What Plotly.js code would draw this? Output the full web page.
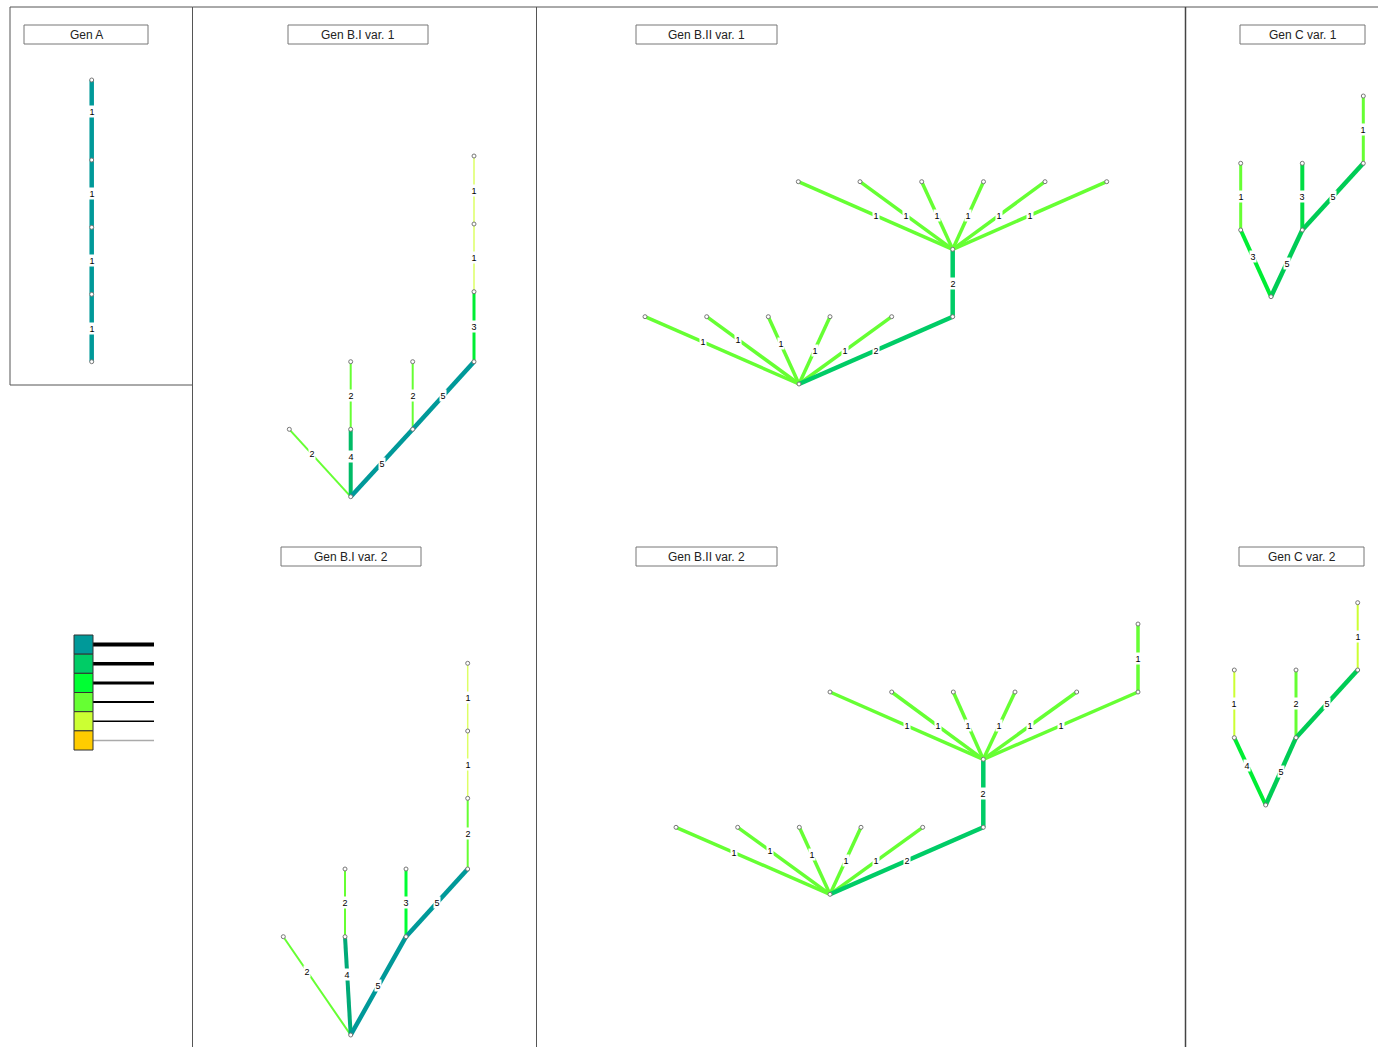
<!DOCTYPE html>
<html>
<head>
<meta charset="utf-8">
<script src="https://cdn.plot.ly/plotly-3.0.1.min.js"></script>
<style>html,body{margin:0;padding:0;background:#fff;}#chart{width:1378px;height:1047px;}</style>
</head>
<body>
<div id="chart"></div>
<script>
// ---------- DATA (node coordinates in page units, edges, edge values) ----------
// Gen A
const genA_x = [91.7, 91.7, 91.7, 91.7, 91.7];
const genA_y = [80, 160, 227.3, 294.3, 361.7];
const genA_from = [0, 1, 2, 3];
const genA_to   = [1, 2, 3, 4];
const genA_val  = [1, 1, 1, 1];
const genA_lblT = [0.39, 0.5, 0.5, 0.5];

// Gen B.I var. 1
const bi1_x = [350.7, 289.3, 350.7, 350.7, 412.7, 412.7, 474, 474, 474, 474];
const bi1_y = [496.7, 429.3, 429.3, 361.7, 429.3, 361.7, 361.7, 291.7, 224, 156];
const bi1_from = [1, 2, 2, 0, 4, 4, 6, 7, 8];
const bi1_to   = [0, 0, 3, 4, 5, 6, 7, 8, 9];
const bi1_val  = [2, 4, 2, 5, 2, 5, 3, 1, 1];
const bi1_lblT = [0.365, 0.41, 0.5, 0.5, 0.5, 0.5, 0.5, 0.5, 0.5];

// Gen B.I var. 2
const bi2_x = [350.7, 283.3, 345, 345, 406, 406, 467.7, 467.7, 467.7, 467.7];
const bi2_y = [1035, 936.7, 936.7, 869, 936.7, 869, 869, 798.3, 731, 663.3];
const bi2_from = [1, 2, 2, 0, 4, 4, 6, 7, 8];
const bi2_to   = [0, 0, 3, 4, 5, 6, 7, 8, 9];
const bi2_val  = [2, 4, 2, 5, 3, 5, 2, 1, 1];
const bi2_lblT = [0.35, 0.38, 0.5, 0.5, 0.5, 0.5, 0.5, 0.5, 0.5];

// Gen B.II var. 1
const bii1_x = [799, 645, 706.7, 768.3, 830, 891.7, 952.7, 952.7, 798.3, 860, 921.7, 983.5, 1045, 1106.7];
const bii1_y = [384, 316.7, 316.7, 316.7, 316.7, 316.7, 316.7, 249.3, 181.7, 181.7, 181.7, 181.7, 181.7, 181.7];
const bii1_from = [1, 2, 3, 4, 5, 0, 6, 8, 9, 10, 11, 12, 13];
const bii1_to   = [0, 0, 0, 0, 0, 6, 7, 7, 7, 7, 7, 7, 7];
const bii1_val  = [1, 1, 1, 1, 1, 2, 2, 1, 1, 1, 1, 1, 1];
const bii1_lblT = [0.375, 0.34, 0.40, 0.5, 0.5, 0.5, 0.5, 0.5, 0.5, 0.5, 0.5, 0.5, 0.5];

// Gen B.II var. 2
const bii2_x = [830, 676, 737.7, 799.3, 861, 922.7, 983.3, 983.3, 830, 891.7, 953.3, 1015, 1076.7, 1138, 1138];
const bii2_y = [894.3, 827.3, 827.3, 827.3, 827.3, 827.3, 827.3, 759.3, 692, 692, 692, 692, 692, 692, 624];
const bii2_from = [1, 2, 3, 4, 5, 0, 6, 8, 9, 10, 11, 12, 13, 13];
const bii2_to   = [0, 0, 0, 0, 0, 6, 7, 7, 7, 7, 7, 7, 7, 14];
const bii2_val  = [1, 1, 1, 1, 1, 2, 2, 1, 1, 1, 1, 1, 1, 1];
const bii2_lblT = [0.377, 0.35, 0.40, 0.5, 0.5, 0.5, 0.5, 0.5, 0.5, 0.5, 0.5, 0.5, 0.5, 0.5];

// Gen C var. 1
const c1_x = [1271, 1240.7, 1240.7, 1302.3, 1302.3, 1363.3, 1363.3];
const c1_y = [296.7, 230, 163.3, 230, 163.3, 163.3, 96];
const c1_from = [1, 1, 0, 3, 3, 5];
const c1_to   = [0, 2, 3, 4, 5, 6];
const c1_val  = [3, 1, 5, 3, 5, 1];
const c1_lblT = [0.4, 0.5, 0.5, 0.5, 0.5, 0.5];

// Gen C var. 2
const c2_x = [1265.7, 1234.3, 1234.3, 1296, 1296, 1357.7, 1357.7];
const c2_y = [805, 737.7, 670, 737.7, 670, 670, 602.7];
const c2_from = [1, 1, 0, 3, 3, 5];
const c2_to   = [0, 2, 3, 4, 5, 6];
const c2_val  = [4, 1, 5, 2, 5, 1];
const c2_lblT = [0.42, 0.5, 0.5, 0.5, 0.5, 0.5];

// Panel titles
const titleTexts = ["Gen A", "Gen B.I var. 1", "Gen B.II var. 1", "Gen C var. 1",
                    "Gen B.I var. 2", "Gen B.II var. 2", "Gen C var. 2"];

// Legend keys (colour classes)
const legendColors = ["#009999", "#00CC66", "#00FF33", "#66FF33", "#CCFF33", "#FFCC00"];

// ---------- STYLES ----------
const TEAL = "#009999";
const genA_color = [TEAL, TEAL, TEAL, TEAL];
const genA_width = [4.5, 4.5, 4.5, 4.5];
const bi1_color = ["#66FF33", "#00BB66", "#66FF33", TEAL, "#66FF33", TEAL, "#00EE33", "#DDFF66", "#DDFF66"];
const bi1_width = [2, 4, 2, 4.5, 2, 4.5, 3, 1.5, 1.5];
const bi2_color = ["#66FF33", "#00AA77", "#66FF33", TEAL, "#00FF33", TEAL, "#66FF33", "#DDFF66", "#DDFF66"];
const bi2_width = [2, 4, 2, 4.5, 3, 4.5, 2, 1.5, 1.5];
const G1 = "#66FF33", G2 = "#00CC66";
const bii1_color = [G1, G1, G1, G1, G1, G2, G2, G1, G1, G1, G1, G1, G1];
const bii1_width = [3.5, 3.5, 3.5, 3.5, 3.5, 4.5, 4.5, 3.5, 3.5, 3.5, 3.5, 3.5, 3.5];
const bii2_color = [G1, G1, G1, G1, G1, G2, G2, G1, G1, G1, G1, G1, G1, G1];
const bii2_width = [3.5, 3.5, 3.5, 3.5, 3.5, 4.5, 4.5, 3.5, 3.5, 3.5, 3.5, 3.5, 3.5, 3.5];
const c1_color = ["#00EE33", "#66FF33", "#00CC55", "#00DD44", "#00CC55", "#66FF33"];
const c1_width = [4, 3, 4.5, 4, 4.5, 3];
const c2_color = ["#00EE33", "#CCFF33", "#00CC55", "#66FF33", "#00CC55", "#CCFF33"];
const c2_width = [4, 2, 4.5, 3, 4.5, 2];

const legendWidths = [4, 3.3, 3, 2, 1.5, 1.5];
const legendLineColors = ["#000", "#000", "#000", "#000", "#000", "#AAAAAA"];

// layout geometry (page units)
const titleBoxes = [
  [24, 25, 148, 44], [288, 25, 428, 44], [636, 25, 777, 44], [1240, 25, 1365, 44],
  [281, 547, 421, 566], [636, 547, 777, 566], [1239, 547, 1364, 566]
];
const legendGeo = {x0: 74, x1: 93, lineEnd: 154, top: 635, step: 19.17};

// ---------- BUILD ----------
const trees = [
  {x: genA_x, y: genA_y, from: genA_from, to: genA_to, val: genA_val, t: genA_lblT, c: genA_color, w: genA_width},
  {x: bi1_x, y: bi1_y, from: bi1_from, to: bi1_to, val: bi1_val, t: bi1_lblT, c: bi1_color, w: bi1_width},
  {x: bi2_x, y: bi2_y, from: bi2_from, to: bi2_to, val: bi2_val, t: bi2_lblT, c: bi2_color, w: bi2_width},
  {x: bii1_x, y: bii1_y, from: bii1_from, to: bii1_to, val: bii1_val, t: bii1_lblT, c: bii1_color, w: bii1_width},
  {x: bii2_x, y: bii2_y, from: bii2_from, to: bii2_to, val: bii2_val, t: bii2_lblT, c: bii2_color, w: bii2_width},
  {x: c1_x, y: c1_y, from: c1_from, to: c1_to, val: c1_val, t: c1_lblT, c: c1_color, w: c1_width},
  {x: c2_x, y: c2_y, from: c2_from, to: c2_to, val: c2_val, t: c2_lblT, c: c2_color, w: c2_width}
];

const traces = [];
const annotations = [];
const shapes = [];

trees.forEach(tr => {
  tr.from.forEach((a, i) => {
    const b = tr.to[i];
    traces.push({
      type: "scatter", mode: "lines", hoverinfo: "skip",
      x: [tr.x[a], tr.x[b]], y: [tr.y[a], tr.y[b]],
      line: {color: tr.c[i], width: tr.w[i]}
    });
    const t = tr.t[i];
    annotations.push({
      xref: "x", yref: "y",
      x: tr.x[a] + t * (tr.x[b] - tr.x[a]),
      y: tr.y[a] + t * (tr.y[b] - tr.y[a]),
      text: String(tr.val[i]), showarrow: false,
      bgcolor: "#ffffff", borderpad: 0.5,
      font: {family: "Liberation Sans, Arial, sans-serif", size: 9, color: "#000"}
    });
  });
});
trees.forEach(tr => {
  traces.push({
    type: "scatter", mode: "markers", hoverinfo: "skip",
    x: tr.x, y: tr.y,
    marker: {symbol: "circle", size: 4, color: "#ffffff", line: {color: "#777777", width: 1}}
  });
});

// legend lines
legendColors.forEach((col, i) => {
  const yc = legendGeo.top + legendGeo.step * (i + 0.5);
  traces.push({
    type: "scatter", mode: "lines", hoverinfo: "skip",
    x: [legendGeo.x1, legendGeo.lineEnd], y: [yc, yc],
    line: {color: legendLineColors[i], width: legendWidths[i]}
  });
  shapes.push({
    type: "rect", xref: "x", yref: "y",
    x0: legendGeo.x0, x1: legendGeo.x1,
    y0: legendGeo.top + legendGeo.step * i, y1: legendGeo.top + legendGeo.step * (i + 1),
    fillcolor: col, line: {color: "#333", width: 1}, layer: "above"
  });
});

// frames
const frameLine = {color: "#555555", width: 1};
shapes.push({type: "rect", xref: "x", yref: "y", x0: 10, y0: 7, x1: 192.5, y1: 385, line: frameLine, layer: "below"});
shapes.push({type: "line", xref: "x", yref: "y", x0: 192.5, y0: 7, x1: 192.5, y1: 1047, line: frameLine});
shapes.push({type: "line", xref: "x", yref: "y", x0: 192.5, y0: 7, x1: 1378, y1: 7, line: frameLine});
shapes.push({type: "line", xref: "x", yref: "y", x0: 536.5, y0: 7, x1: 536.5, y1: 1047, line: frameLine});
shapes.push({type: "line", xref: "x", yref: "y", x0: 1185.5, y0: 7, x1: 1185.5, y1: 1047, line: {color: "#444", width: 1.5}});

// title boxes
titleBoxes.forEach((bx, i) => {
  shapes.push({type: "rect", xref: "x", yref: "y", x0: bx[0], y0: bx[1], x1: bx[2], y1: bx[3],
    fillcolor: "#ffffff", line: {color: "#777777", width: 1}});
  annotations.push({
    xref: "x", yref: "y", x: (bx[0] + bx[2]) / 2, y: (bx[1] + bx[3]) / 2,
    text: titleTexts[i], showarrow: false,
    font: {family: "Liberation Sans, Arial, sans-serif", size: 12, color: "#222"}
  });
});

const layout = {
  width: 1378, height: 1047,
  margin: {l: 0, r: 0, t: 0, b: 0, pad: 0},
  paper_bgcolor: "#ffffff", plot_bgcolor: "#ffffff",
  showlegend: false,
  xaxis: {range: [0, 1378], visible: false, fixedrange: true},
  yaxis: {range: [1047, 0], visible: false, fixedrange: true},
  shapes: shapes,
  annotations: annotations
};

Plotly.newPlot("chart", traces, layout, {staticPlot: true, displayModeBar: false});
</script>
</body>
</html>
